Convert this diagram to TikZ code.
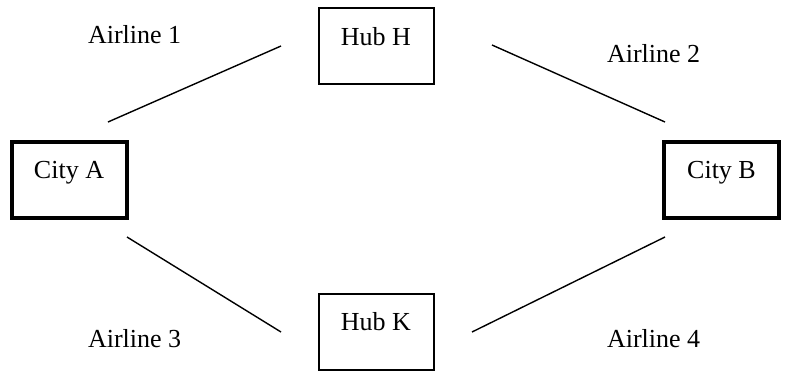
\documentclass[tikz,border=0pt]{standalone}
\usepackage{fontspec}
\setmainfont{Liberation Serif}
\begin{document}
\begin{tikzpicture}[x=1pt,y=-1pt,
  every node/.style={font=\fontsize{26}{30}\selectfont, inner sep=0pt, outer sep=0pt},
  box/.style={draw, minimum width=115pt, minimum height=76pt, text height=9pt, text depth=11pt},
  citybox/.style={box, line width=4pt},
  hubbox/.style={box, line width=2pt},
  route/.style={line width=1.4pt},
  airline/.style={anchor=base west}]
  \useasboundingbox (0,0) rectangle (785,373);

  % cities and hubs
  \node[citybox] (cityA) at (69,179.5) {City A};
  \node[citybox] (cityB) at (721.5,179.5) {City B};
  \node[hubbox]  (hubH)  at (376,46) {Hub H};
  \node[hubbox]  (hubK)  at (376,331.5) {Hub K};

  % end points of the route segments
  \coordinate (r1a) at (108,122);
  \coordinate (r1b) at (281,46);
  \coordinate (r2a) at (492,45);
  \coordinate (r2b) at (665,122);
  \coordinate (r3a) at (127,237);
  \coordinate (r3b) at (281,332);
  \coordinate (r4a) at (472,332);
  \coordinate (r4b) at (665,237);

  \draw[route] (r1a) -- (r1b);
  \draw[route] (r2a) -- (r2b);
  \draw[route] (r3a) -- (r3b);
  \draw[route] (r4a) -- (r4b);

  % airline labels
  \node[airline] (air1) at (88,43) {Airline 1};
  \node[airline] (air2) at (607,62) {Airline 2};
  \node[airline] (air3) at (88,347) {Airline 3};
  \node[airline] (air4) at (607,347) {Airline 4};
\end{tikzpicture}
\end{document}
